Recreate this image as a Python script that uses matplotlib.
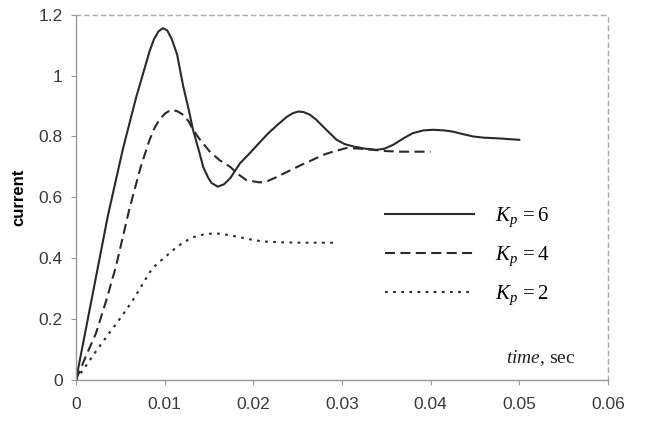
import matplotlib
matplotlib.use("Agg")
import matplotlib.pyplot as plt
from matplotlib.ticker import FuncFormatter

plt.rcParams['font.family'] = ['Liberation Sans', 'DejaVu Sans']
plt.rcParams['mathtext.fontset'] = 'custom'
plt.rcParams['mathtext.rm'] = 'Liberation Serif'
plt.rcParams['mathtext.it'] = 'Liberation Serif:italic'

# values
t6 = [0, 0.002, 0.0036, 0.0053, 0.0068, 0.0083, 0.0088, 0.0093, 0.0098, 0.0103,
      0.0108, 0.0114, 0.0121, 0.0127, 0.0132, 0.0138, 0.01435, 0.0149, 0.0153, 0.016,
      0.0167, 0.0174, 0.0185, 0.0196, 0.0207, 0.0217, 0.0228, 0.0238, 0.0245, 0.0251,
      0.0257, 0.0264, 0.0271, 0.0283, 0.0294, 0.0303, 0.0313, 0.0326, 0.0339, 0.0348,
      0.0358, 0.037, 0.038, 0.0392, 0.0403, 0.0415, 0.0425, 0.0436, 0.0448, 0.046,
      0.0475, 0.05]
i6 = [0, 0.30, 0.54, 0.76, 0.93, 1.08, 1.12, 1.145, 1.156, 1.148,
      1.12, 1.07, 0.964, 0.89, 0.822, 0.76, 0.70, 0.665, 0.647, 0.635,
      0.643, 0.663, 0.712, 0.745, 0.78, 0.811, 0.84, 0.865, 0.877, 0.882,
      0.88, 0.871, 0.855, 0.82, 0.789, 0.775, 0.767, 0.76, 0.756, 0.76,
      0.773, 0.795, 0.811, 0.82, 0.822, 0.82, 0.816, 0.808, 0.80, 0.796,
      0.794, 0.789]

t4 = [0, 0.0011, 0.00225, 0.0034, 0.0045, 0.006, 0.0073, 0.0083, 0.0089, 0.0094,
      0.0101, 0.0108, 0.0115, 0.0121, 0.0127, 0.0132, 0.0141, 0.0151, 0.0162, 0.0174,
      0.0183, 0.0192, 0.0207, 0.0215, 0.0225, 0.0239, 0.0253, 0.0266, 0.0279, 0.0292,
      0.0305, 0.032, 0.0335, 0.035, 0.0365, 0.04]
i4 = [0, 0.077, 0.153, 0.26, 0.372, 0.559, 0.70, 0.789, 0.83, 0.855,
      0.877, 0.888, 0.882, 0.871, 0.85, 0.822, 0.785, 0.75, 0.722, 0.70,
      0.676, 0.657, 0.649, 0.652, 0.665, 0.685, 0.705, 0.722, 0.74, 0.752,
      0.762, 0.76, 0.756, 0.752, 0.75, 0.75]

t2 = [0, 0.0008, 0.0021, 0.0036, 0.005, 0.0063, 0.0074, 0.0085, 0.0092, 0.0099,
      0.0107, 0.0114, 0.0123, 0.0132, 0.0145, 0.0157, 0.017, 0.0185, 0.0198, 0.0211,
      0.0235, 0.0256, 0.0292]
i2 = [0, 0.033, 0.088, 0.148, 0.203, 0.257, 0.309, 0.362, 0.383, 0.40,
      0.42, 0.438, 0.455, 0.469, 0.479, 0.482, 0.477, 0.469, 0.461, 0.455,
      0.452, 0.451, 0.451]

labels = [r'$K_p\,=6$', r'$K_p\,=4$', r'$K_p\,=2$']

fig = plt.figure(figsize=(6.45, 4.23), dpi=100)
ax = fig.add_axes([0.1178, 0.1017, 0.8248, 0.8635])

lc = '#2a2a2a'
ax.plot(t6, i6, color=lc, lw=1.5, label=labels[0])
ax.plot(t4, i4, color=lc, lw=1.5, dashes=(4.8, 2.6), label=labels[1])
ax.plot(t2, i2, color=lc, lw=1.5, dashes=(1.3, 2.6), label=labels[2])

ax.set_xlim(0, 0.06)
ax.set_ylim(0, 1.2)
ax.set_xticks([0, 0.01, 0.02, 0.03, 0.04, 0.05, 0.06])
ax.set_yticks([0, 0.2, 0.4, 0.6, 0.8, 1.0, 1.2])
fmt = FuncFormatter(lambda v, p: '%g' % round(v, 4))
ax.xaxis.set_major_formatter(fmt)
ax.yaxis.set_major_formatter(fmt)
ax.tick_params(labelsize=12.5, colors='#3a3a3a', length=3.5, width=0.8)
ax.tick_params(axis='x', pad=9, color='#999999')
ax.tick_params(axis='y', pad=6, color='#999999')

for s in ['left', 'bottom']:
    ax.spines[s].set_color('#999999')
    ax.spines[s].set_linewidth(1.0)
for s in ['top', 'right']:
    ax.spines[s].set_color('#aaaaaa')
    ax.spines[s].set_linewidth(1.0)
    ax.spines[s].set_linestyle((0, (3, 3)))

ax.set_ylabel('current', fontsize=12, fontweight='bold', labelpad=9)

leg = ax.legend(loc='upper left', bbox_to_anchor=(0.565, 0.50), frameon=False,
                fontsize=15, handlelength=4.3, handletextpad=1.0, labelspacing=0.75,
                borderaxespad=0)

ax.text(0.94, 0.045, r'$time$, sec', transform=ax.transAxes, ha='right',
        va='baseline', fontsize=14, family='Liberation Serif', color='#222222')

fig.savefig('out.png', dpi=100)
